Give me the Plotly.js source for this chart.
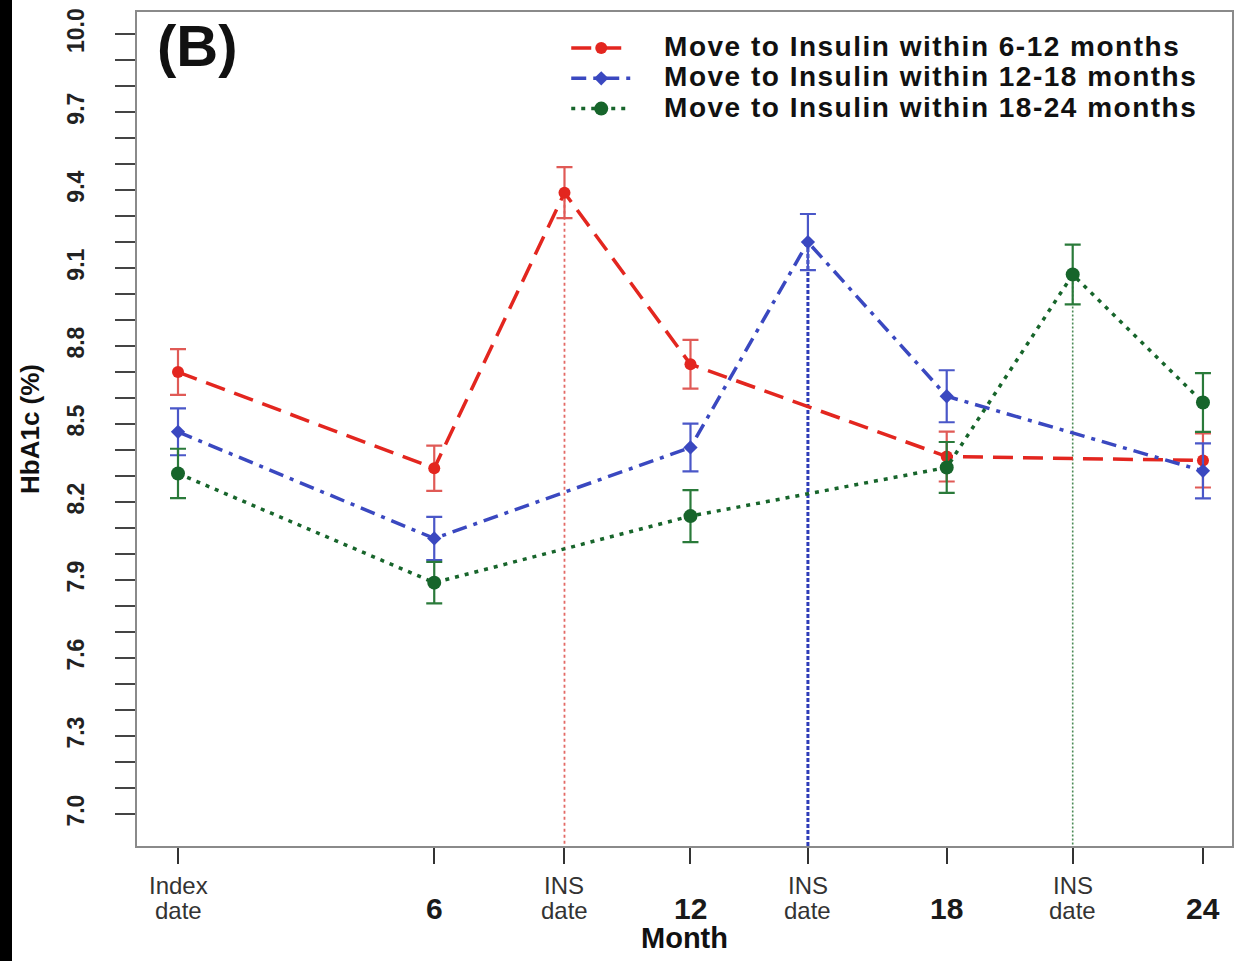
<!DOCTYPE html>
<html>
<head>
<meta charset="utf-8">
<script src="https://cdn.plot.ly/plotly-3.0.1.min.js"></script>
<style>
  html, body { margin: 0; padding: 0; background: #000; }
  #chart { position: absolute; left: 12px; top: 0; width: 1236px; height: 961px; background: #fff; }
</style>
</head>
<body>
<div id="chart"></div>
<script>
// Month positions: index date, 6-monthly visits and the insulin start dates between them
const insDates = [9.05, 14.75, 20.95];
const tickMonths = [0, 6, insDates[0], 12, insDates[1], 18, insDates[2], 24];
const tickLabels = ['Index<br>date', '6', 'INS<br>date', '12', 'INS<br>date', '18', 'INS<br>date', '24'];

const seriesNames = [
  'Move to Insulin within 6-12 months',
  'Move to Insulin within 12-18 months',
  'Move to Insulin within 18-24 months'
];

// Mean HbA1c (%) and error half-widths per group
const months612 = [0, 6, insDates[0], 12, 18, 24];
const hba1c612  = [8.70, 8.33, 9.39, 8.73, 8.375, 8.36];
const err612    = [0.088, 0.087, 0.098, 0.094, 0.096, 0.104];

const months1218 = [0, 6, 12, insDates[1], 18, 24];
const hba1c1218  = [8.47, 8.06, 8.41, 9.20, 8.607, 8.32];
const err1218    = [0.09, 0.083, 0.092, 0.108, 0.10, 0.106];

const months1824 = [0, 6, 12, 18, insDates[2], 24];
const hba1c1824  = [8.31, 7.89, 8.146, 8.333, 9.075, 8.583];
const err1824    = [0.095, 0.08, 0.10, 0.098, 0.115, 0.113];

const yLabelStep = 3;        // label every 0.3, tick every 0.1
const yMin = 6.877, yMax = 10.085;
const font = 'Liberation Sans, Arial, Helvetica, sans-serif';

const red = '#e3261f', blue = '#3a48c0', green = '#17652b';

// y ticks every 0.1 from 7.0 to 10.0
const yTickVals = [], yTickText = [];
for (let i = 0; i <= 30; i++) {
  const v = Math.round((7.0 + i * 0.1) * 10) / 10;
  yTickVals.push(v);
  yTickText.push(i % yLabelStep === 0 ? v.toFixed(1) : '');
}

const groups = [
  { name: seriesNames[0], x: months612,  y: hba1c612,  e: err612,  ins: insDates[0], color: red,
    dash: '20px,10px', symbol: 'circle', size: 12, errColor: '#e05a56', vdash: '3px,3px', vwidth: 1.8, vcolor: '#e36a66' },
  { name: seriesNames[1], x: months1218, y: hba1c1218, e: err1218, ins: insDates[1], color: blue,
    dash: '15px,7px,4px,7px', symbol: 'diamond', size: 11, errColor: '#4a57c8', vdash: '4px,2px', vwidth: 3, vcolor: '#2e3cb8' },
  { name: seriesNames[2], x: months1824, y: hba1c1824, e: err1824, ins: insDates[2], color: green,
    dash: '4px,6px', symbol: 'circle', size: 14, errColor: '#2a7a3a', vdash: '2px,2px', vwidth: 1.6, vcolor: '#4a8a55' }
];

const traces = [];
// dotted drop lines from each group's insulin-start value to the axis floor
groups.forEach(g => {
  const k = g.x.indexOf(g.ins);
  traces.push({
    x: [g.ins, g.ins], y: [g.y[k], yMin], mode: 'lines', showlegend: false, hoverinfo: 'skip',
    line: { color: g.vcolor, width: g.vwidth, dash: g.vdash }
  });
});
groups.forEach(g => {
  traces.push({
    x: g.x, y: g.y, mode: 'lines+markers', type: 'scatter',
    name: '<span style="font-size:28px;letter-spacing:1.5px">\u00a0\u00a0\u00a0' + g.name + '</span>',
    line: { color: g.color, width: 3.5, dash: g.dash },
    marker: { color: g.color, symbol: g.symbol, size: g.size },
    error_y: { type: 'data', array: g.e, visible: true, color: g.errColor, thickness: 2.2, width: 8 }
  });
});

// x tick labels: numeric visits large and bold, two-line date labels smaller
const annotations = [];
tickMonths.forEach((m, i) => {
  const lines = tickLabels[i].split('<br>');
  if (lines.length === 1) {
    annotations.push({
      x: m, xref: 'x', y: 0, yref: 'paper', yanchor: 'middle', xanchor: 'center',
      yshift: -62, showarrow: false, text: lines[0],
      font: { family: font, size: 30, color: '#1a1a1a', weight: 'bold' }
    });
  } else {
    lines.forEach((t, j) => {
      annotations.push({
        x: m, xref: 'x', y: 0, yref: 'paper', yanchor: 'middle', xanchor: 'center',
        yshift: -39 - 25 * j, showarrow: false, text: t,
        font: { family: font, size: 24, color: '#333' }
      });
    });
  }
});
annotations.push({
  x: 0, xref: 'paper', y: 1, yref: 'paper', xanchor: 'left', yanchor: 'top',
  xshift: 18, yshift: 1, showarrow: false, text: '(B)',
  font: { family: font, size: 58, color: '#111', weight: 'bold' }
});

const layout = {
  width: 1236, height: 961,
  margin: { l: 125, r: 16, t: 12, b: 115 },
  paper_bgcolor: '#fff', plot_bgcolor: '#fff',
  showlegend: true,
  legend: {
    x: 0.392, y: 0.981, xanchor: 'left', yanchor: 'top',
    bgcolor: 'rgba(0,0,0,0)', itemwidth: 60, tracegroupgap: 0,
    font: { family: font, size: 21, color: '#111', weight: 'bold' }
  },
  xaxis: {
    range: [-0.96, 24.68], showgrid: false, zeroline: false,
    tickmode: 'array', tickvals: tickMonths, showticklabels: false,
    ticks: 'outside', ticklen: 16, tickwidth: 2, tickcolor: '#333',
    showline: true, mirror: true, linecolor: '#8a8a8a', linewidth: 2,
    title: { text: 'Month', standoff: 65, font: { family: font, size: 29, color: '#111', weight: 'bold' } }
  },
  yaxis: {
    range: [yMin, yMax], showgrid: false, zeroline: false,
    tickmode: 'array', tickvals: yTickVals, ticktext: yTickText, tickangle: -90,
    ticks: 'outside', ticklen: 20, tickwidth: 2, tickcolor: '#444', ticklabelstandoff: 22,
    tickfont: { family: font, size: 23, color: '#222', weight: 'bold' },
    showline: true, mirror: true, linecolor: '#8a8a8a', linewidth: 2,
    title: { text: 'HbA1c (%)', standoff: 16, font: { family: font, size: 26, color: '#111', weight: 'bold' } }
  },
  annotations: annotations
};

Plotly.newPlot('chart', traces, layout, { staticPlot: true, displayModeBar: false });
</script>
</body>
</html>
